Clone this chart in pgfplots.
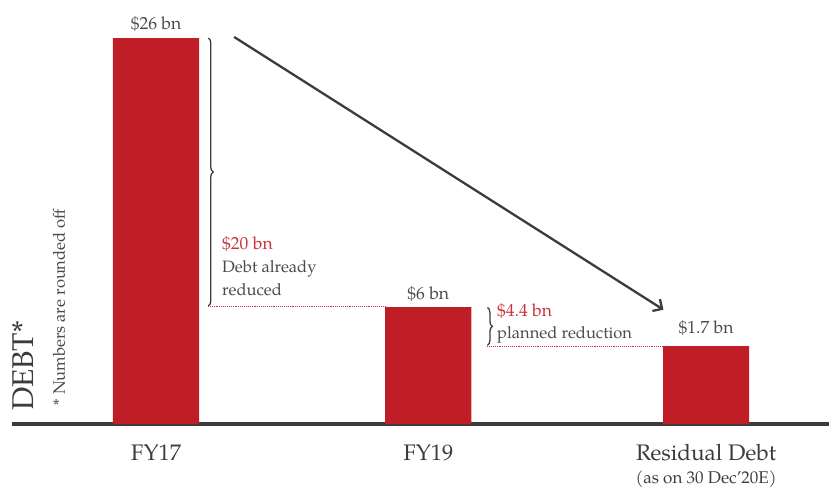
\documentclass[border=0pt]{standalone}
\usepackage{pgfplots}
\pgfplotsset{compat=1.18}
\usepackage{fontspec}
\setmainfont{TeX Gyre Pagella}
\usetikzlibrary{decorations.pathreplacing, arrows.meta}
\definecolor{barred}{HTML}{C01E26}
\definecolor{txtred}{HTML}{C8323A}
\definecolor{txtgray}{HTML}{4A4A4A}
\definecolor{axgray}{HTML}{3C3C3C}
\begin{document}
\begin{tikzpicture}[x=1pt,y=1pt]
\begin{axis}[
  at={(12pt,64pt)}, anchor=south west,
  scale only axis, width=817pt, height=424pt,
  xmin=-0.5236, xmax=2.447, ymin=0, ymax=28.56,
  axis x line=bottom, axis y line=none,
  x axis line style={-, line width=3.5pt, color=axgray},
  xtick={0,0.99,2},
  xticklabels={FY17, FY19, {Residual Debt\\[-2pt]{\fontsize{17}{19}\selectfont (as on 30 Dec’20E)}}},
  xticklabel style={align=center, font=\fontsize{22.5}{25}\selectfont, text=axgray, yshift=-17pt},
  major tick length=0pt,
  clip=false,
]
\addplot[ybar, fill=barred, draw=none, bar width=0.313] coordinates {(0,26) (0.99,7.88) (2,5.25)};
% value labels
\node[above, font=\fontsize{17.5}{19}\selectfont, text=txtgray] at (axis cs:0,26.2) {\$26 bn};
\node[above, font=\fontsize{17.5}{19}\selectfont, text=txtgray] at (axis cs:0.99,8.0) {\$6 bn};
\node[above, font=\fontsize{17.5}{19}\selectfont, text=txtgray] at (axis cs:2,5.7) {\$1.7 bn};
% brace 1
\draw[decorate, decoration={brace, amplitude=5pt}, line width=1.3pt, color=axgray] (axis cs:0.19,26) -- (axis cs:0.19,7.95);
\draw[densely dotted, line width=0.9pt, color=txtred] (axis cs:0.189,7.9) -- (axis cs:0.832,7.9);
\node[anchor=north west, align=left, inner sep=0pt, font=\fontsize{16.5}{23}\selectfont, text=txtgray] at (axis cs:0.24,12.65) {{\color{txtred}\fontsize{17.5}{23}\selectfont \$20 bn}\\Debt already\\reduced};
% brace 2
\draw[decorate, decoration={brace, amplitude=5pt}, line width=1.3pt, color=axgray] (axis cs:1.205,7.85) -- (axis cs:1.205,5.3);
\draw[densely dotted, line width=0.9pt, color=txtred] (axis cs:1.204,5.22) -- (axis cs:1.843,5.22);
\node[anchor=north west, align=left, inner sep=0pt, font=\fontsize{16.5}{22}\selectfont, text=txtgray] at (axis cs:1.24,8.1) {{\color{txtred}\fontsize{17.5}{22}\selectfont \$4.4 bn}\\planned reduction};
% arrow
\draw[line width=2.3pt, color=axgray, -{Straight Barb[length=7pt, width=14pt, line width=2.3pt]}] (axis cs:0.284,26.07) -- (axis cs:1.845,7.7);
\end{axis}
\node[rotate=90, font=\fontsize{30}{32}\selectfont, text=axgray] at (23,122) {DEBT*};
\node[rotate=90, font=\fontsize{16.5}{18}\selectfont, text=txtgray] at (59,181) {* Numbers are rounded off};
\pgfresetboundingbox
\path[use as bounding box] (0,0) rectangle (829,488);
\end{tikzpicture}
\end{document}
